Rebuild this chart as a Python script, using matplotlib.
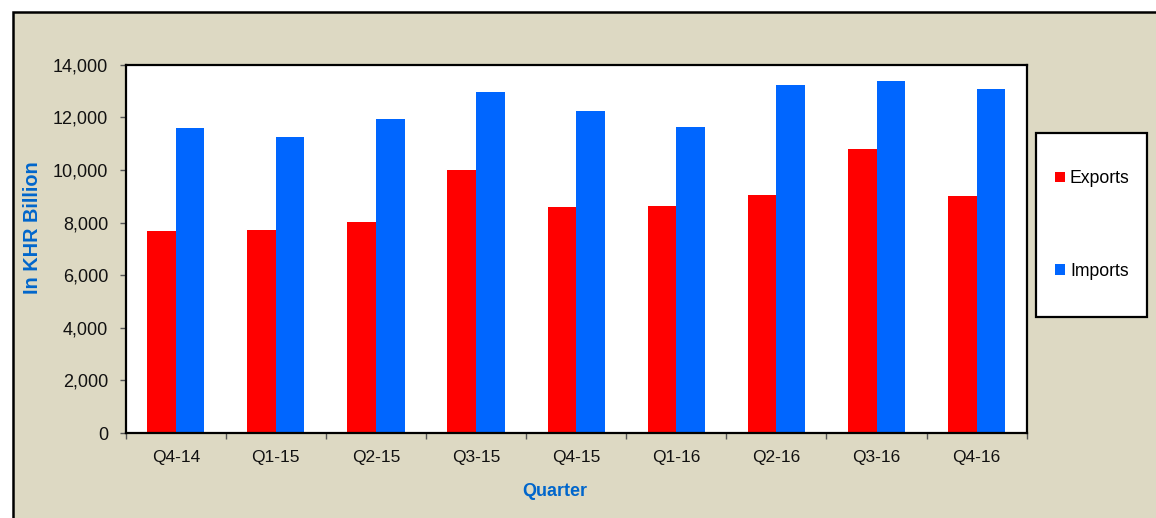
import matplotlib
matplotlib.use("Agg")
import matplotlib.pyplot as plt
import matplotlib.patches as mpatches
import numpy as np

quarters = ["Q4-14", "Q1-15", "Q2-15", "Q3-15", "Q4-15", "Q1-16", "Q2-16", "Q3-16", "Q4-16"]
exports = [7670, 7730, 8030, 10010, 8600, 8640, 9040, 10810, 8990]
imports = [11610, 11270, 11940, 12960, 12250, 11630, 13210, 13380, 13070]
y_ticks = [0, 2000, 4000, 6000, 8000, 10000, 12000, 14000]

plt.rcParams['font.family'] = ['Liberation Sans', 'DejaVu Sans']

W, H = 1156, 518
fig = plt.figure(figsize=(W / 100, H / 100), dpi=100)
fig.patch.set_facecolor('white')

# outer beige frame (extends past right/bottom edges)
frame = mpatches.Rectangle((13 / W, -0.1), 1.2, (H - 12) / H + 0.1, transform=fig.transFigure,
                           facecolor='#DDD9C3', edgecolor='black', linewidth=1.8, zorder=-10)
fig.patches.append(frame)

ax = fig.add_axes([125.7 / W, 85 / H, 901 / W, 368.3 / H])
ax.set_zorder(1)
ax.set_facecolor('white')

x = np.arange(len(quarters))
bw = 0.286
b1 = ax.bar(x - bw / 2, exports, width=bw, color='#FF0000', label='Exports', zorder=2)
b2 = ax.bar(x + bw / 2, imports, width=bw, color='#0066FF', label='Imports', zorder=2)

ax.set_xlim(-0.5, len(quarters) - 0.5)
ax.set_ylim(0, 14000)
ax.set_yticks(y_ticks)
ax.set_yticklabels([f"{v:,}" for v in y_ticks])
ax.set_xticks(x)
ax.set_xticklabels(quarters)
ax.set_xticks(np.arange(-0.5, len(quarters), 1.0), minor=True)

ax.tick_params(axis='x', which='major', length=0, pad=12.5, labelsize=12.5, labelcolor='#111111')
ax.tick_params(axis='x', which='minor', length=4.5, width=1, color='#555555', direction='out')
ax.tick_params(axis='y', which='major', length=4.5, width=1, color='#555555', direction='out',
               pad=8, labelsize=13, labelcolor='#111111')

for s in ax.spines.values():
    s.set_color('black')
    s.set_linewidth(1.6)

fig.text(554.5 / W, 1 - 491.5 / H, 'Quarter', color='#0066CC', fontsize=13, fontweight='bold',
         ha='center', va='center')
fig.text(33 / W, 1 - 228 / H, 'In KHR Billion', color='#0066CC', fontsize=14.3, fontweight='bold',
         ha='center', va='center', rotation=90)

# legend box
box = mpatches.Rectangle((1036 / W, 1 - 317 / H), 111 / W, 184 / H, transform=fig.transFigure,
                         facecolor='white', edgecolor='black', linewidth=1.6, zorder=2)
fig.patches.append(box)

leg = fig.legend(handles=[b1, b2], loc='center left', bbox_to_anchor=(1055 / W, 1 - 225 / H),
                 frameon=False, fontsize=12.7, handlelength=0.55, handleheight=0.55,
                 handletextpad=0.3, labelspacing=4.3, borderpad=0, borderaxespad=0)
leg.set_zorder(3)

fig.savefig('out.png', dpi=100, facecolor=fig.get_facecolor())
